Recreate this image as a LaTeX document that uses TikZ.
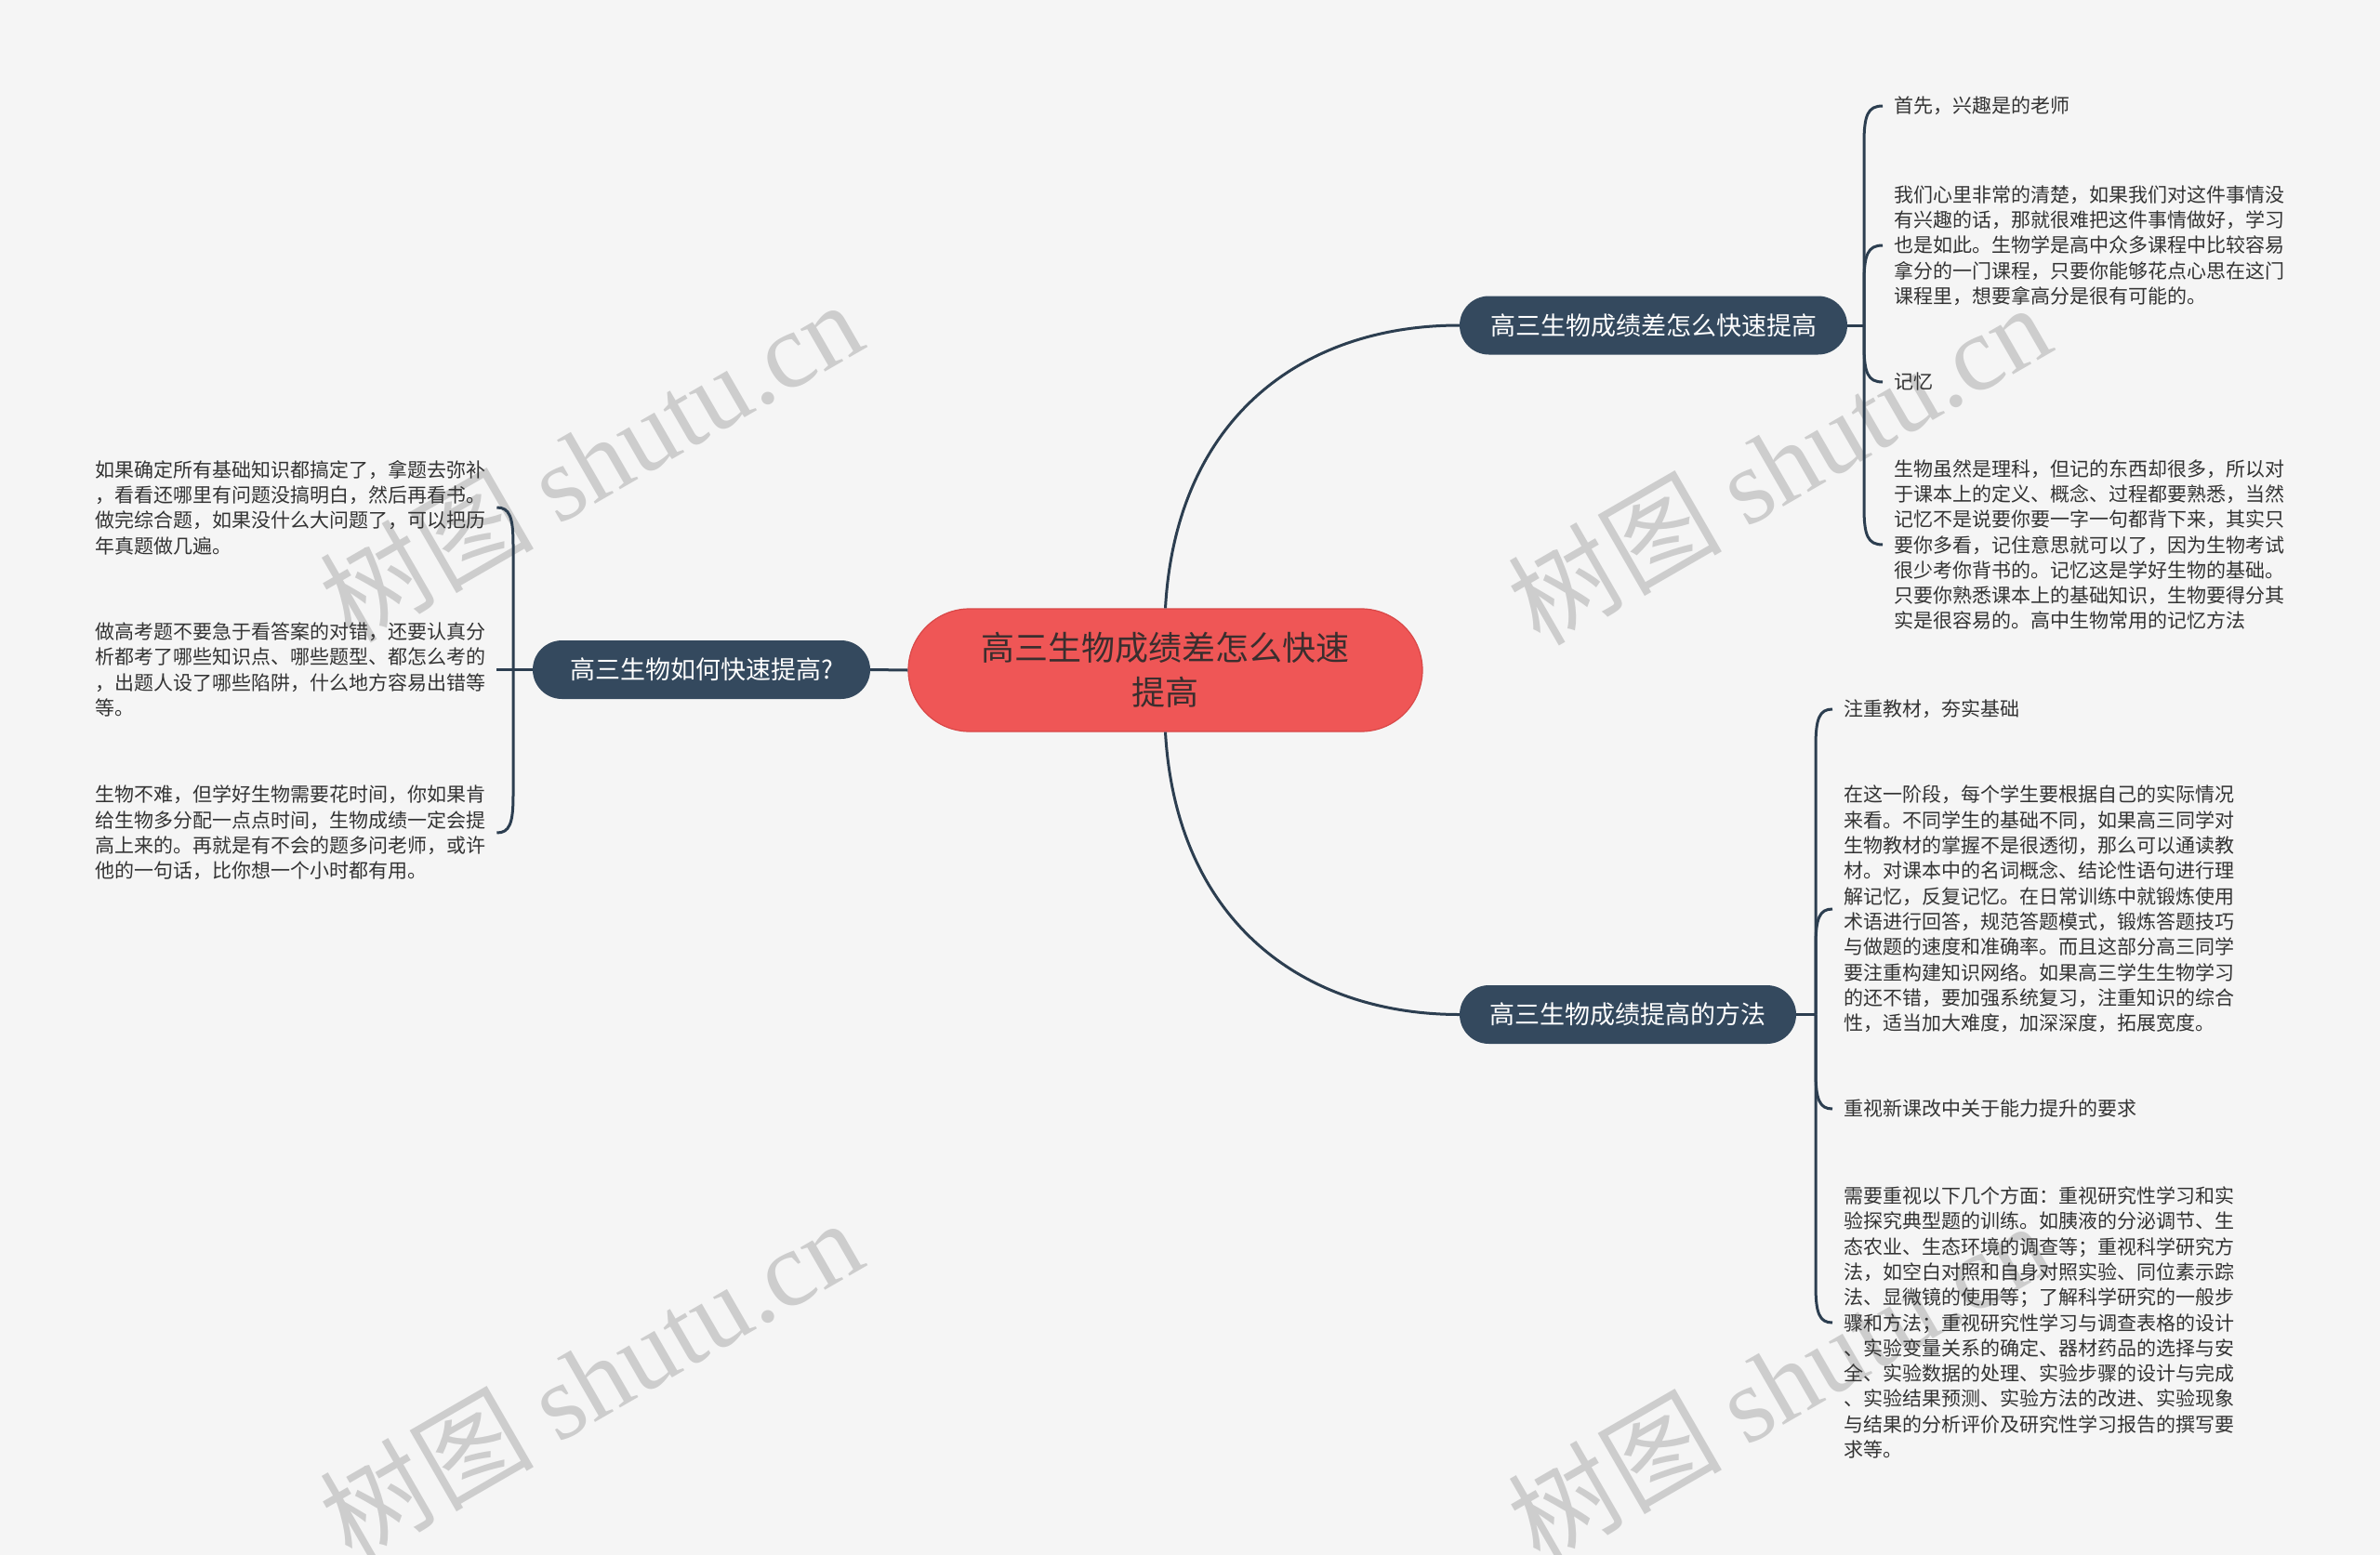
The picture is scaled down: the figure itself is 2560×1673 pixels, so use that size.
\documentclass[tikz,border=0pt]{standalone}
\usepackage{fontspec}
\setmainfont{Noto Sans CJK SC}
\newfontfamily\wmlatin{Liberation Serif}
\usetikzlibrary{calc}
\definecolor{bg}{HTML}{F5F5F5}
\definecolor{linec}{HTML}{2C3E50}
\definecolor{navy}{HTML}{34495E}
\definecolor{rootfill}{HTML}{EF5656}
\definecolor{rootedge}{HTML}{D94848}
\definecolor{roottext}{HTML}{3A2E2E}
\definecolor{txt}{HTML}{333333}
\definecolor{wm}{HTML}{CDCDCD}
\newcommand{\mmlink}[4]{%
  \draw[conn] (#1) -- ($(#1 |- #2)+({0},{40*(#3)})$) .. controls ($(#1 |- #2)+({0},{10*(#3)})$) and ($(#1 |- #2)+({4*(#4)},{0})$) .. ($(#2)+({-12*(#4)},{0})$);}
\begin{document}
\begin{tikzpicture}[x=1pt,y=-1pt,
  conn/.style={draw=linec,line width=3pt},
  rootbox/.style={fill=rootfill,draw=rootedge,line width=1.2pt,rounded corners=66pt,minimum width=553pt,minimum height=132pt,inner sep=0pt,align=center,text=roottext,font=\fontsize{36}{48}\selectfont},
  mainbox/.style={fill=navy,draw=none,rounded corners=31.5pt,minimum height=63pt,inner sep=0pt,text=white,font=\fontsize{27}{32}\selectfont},
  leaf/.style={inner sep=0pt,align=left,text=txt,anchor=west,font=\fontsize{21}{27.3}\selectfont},
  wmark/.style={text=wm,rotate=30,inner sep=0pt,font=\fontsize{115}{115}\selectfont}
]
\fill[bg] (0,0) rectangle (2560,1673);
\useasboundingbox (0,0) rectangle (2560,1673);

% watermarks
\node[wmark] (wm1) at (635,495) {树图 {\wmlatin shutu.cn}};
\node[wmark] (wm2) at (1913,498) {树图 {\wmlatin shutu.cn}};
\node[wmark] (wm3) at (635,1483) {树图 {\wmlatin shutu.cn}};
\node[wmark] (wm4) at (1913,1486) {树图 {\wmlatin shutu.cn}};

% central and main nodes
\node[rootbox] (root) at (1253.5,721) {高三生物成绩差怎么快速\\提高};
\node[mainbox,minimum width=417pt] (b1) at (1778.5,350) {高三生物成绩差怎么快速提高};
\node[mainbox,minimum width=363pt] (b2) at (754.5,720.5) {高三生物如何快速提高?};
\node[mainbox,minimum width=362pt] (b3) at (1751,1091.5) {高三生物成绩提高的方法};

% leaves top right
\node[leaf] (t1) at (2037,114) {首先，兴趣是的老师};
\node[leaf] (t2) at (2037,264) {我们心里非常的清楚，如果我们对这件事情没\\有兴趣的话，那就很难把这件事情做好，学习\\也是如此。生物学是高中众多课程中比较容易\\拿分的一门课程，只要你能够花点心思在这门\\课程里，想要拿高分是很有可能的。};
\node[leaf] (t3) at (2037,411) {记忆};
\node[leaf] (t4) at (2037,586) {生物虽然是理科，但记的东西却很多，所以对\\于课本上的定义、概念、过程都要熟悉，当然\\记忆不是说要你要一字一句都背下来，其实只\\要你多看，记住意思就可以了，因为生物考试\\很少考你背书的。记忆这是学好生物的基础。\\只要你熟悉课本上的基础知识，生物要得分其\\实是很容易的。高中生物常用的记忆方法};

% leaves bottom right
\node[leaf] (r1) at (1983,763) {注重教材，夯实基础};
\node[leaf] (r2) at (1983,978) {在这一阶段，每个学生要根据自己的实际情况\\来看。不同学生的基础不同，如果高三同学对\\生物教材的掌握不是很透彻，那么可以通读教\\材。对课本中的名词概念、结论性语句进行理\\解记忆，反复记忆。在日常训练中就锻炼使用\\术语进行回答，规范答题模式，锻炼答题技巧\\与做题的速度和准确率。而且这部分高三同学\\要注重构建知识网络。如果高三学生生物学习\\的还不错，要加强系统复习，注重知识的综合\\性，适当加大难度，加深深度，拓展宽度。};
\node[leaf] (r3) at (1983,1193) {重视新课改中关于能力提升的要求};
\node[leaf] (r4) at (1983,1423) {需要重视以下几个方面：重视研究性学习和实\\验探究典型题的训练。如胰液的分泌调节、生\\态农业、生态环境的调查等；重视科学研究方\\法，如空白对照和自身对照实验、同位素示踪\\法、显微镜的使用等；了解科学研究的一般步\\骤和方法；重视研究性学习与调查表格的设计\\、实验变量关系的确定、器材药品的选择与安\\全、实验数据的处理、实验步骤的设计与完成\\、实验结果预测、实验方法的改进、实验现象\\与结果的分析评价及研究性学习报告的撰写要\\求等。};

% leaves left
\node[leaf] (l1) at (102,546) {如果确定所有基础知识都搞定了，拿题去弥补\\，看看还哪里有问题没搞明白，然后再看书。\\做完综合题，如果没什么大问题了，可以把历\\年真题做几遍。};
\node[leaf] (l2) at (102,720.5) {做高考题不要急于看答案的对错，还要认真分\\析都考了哪些知识点、哪些题型、都怎么考的\\，出题人设了哪些陷阱，什么地方容易出错等\\等。};
\node[leaf] (l3) at (102,896) {生物不难，但学好生物需要花时间，你如果肯\\给生物多分配一点点时间，生物成绩一定会提\\高上来的。再就是有不会的题多问老师，或许\\他的一句话，比你想一个小时都有用。};

% junctions
\coordinate (jt) at (2005,350);
\coordinate (jr) at (1953,1091.5);
\coordinate (jl) at (552,720.5);

% main connectors
\draw[conn] (root.north) .. controls (1265,450) and (1400,350) .. (b1.west);
\draw[conn] (root.south) .. controls (1265,990) and (1400,1091.5) .. (b3.west);
\draw[conn] (root.west) -- (b2.east);
\draw[conn] (b1.east) -- (jt);
\draw[conn] (b3.east) -- (jr);
\draw[conn] (b2.west) -- (jl);

% leaf connectors
\mmlink{jt}{t1.west}{1}{1}
\mmlink{jt}{t2.west}{1}{1}
\mmlink{jt}{t3.west}{-1}{1}
\mmlink{jt}{t4.west}{-1}{1}
\mmlink{jr}{r1.west}{1}{1}
\mmlink{jr}{r2.west}{1}{1}
\mmlink{jr}{r3.west}{-1}{1}
\mmlink{jr}{r4.west}{-1}{1}
\mmlink{jl}{l1.east}{1}{-1}
\draw[conn] (jl) -- ($(l2.east)+(12,0)$);
\mmlink{jl}{l3.east}{-1}{-1}
\end{tikzpicture}
\end{document}
